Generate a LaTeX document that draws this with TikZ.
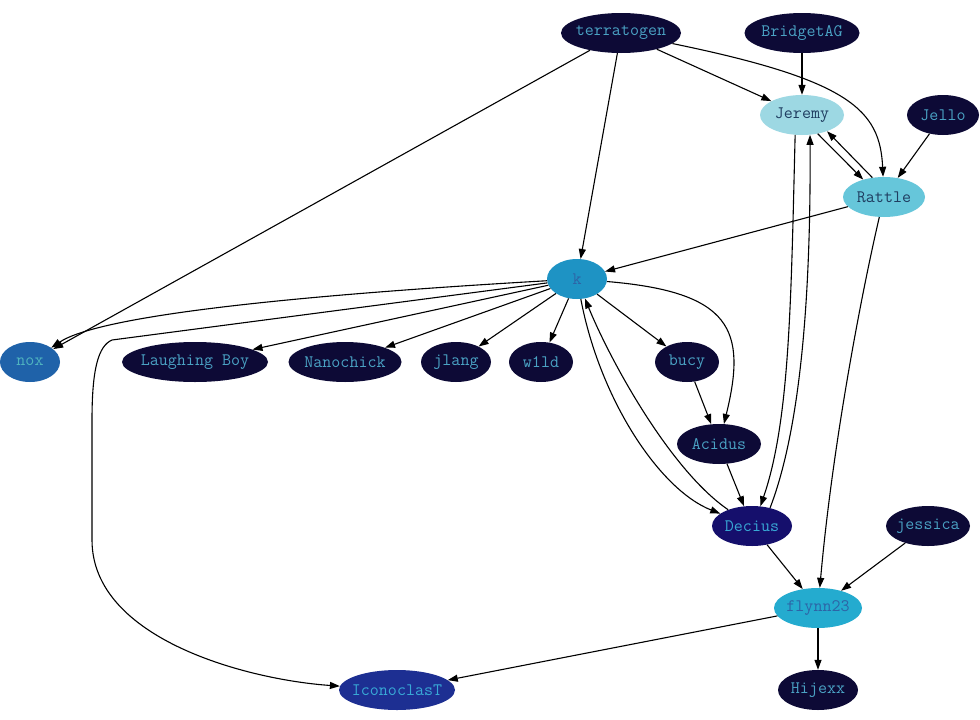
\documentclass[tikz,border=0pt]{standalone}
\usepackage{tikz}
\usetikzlibrary{arrows.meta, shapes.geometric}
\definecolor{night}{HTML}{0D0A36}
\definecolor{sky}{HTML}{4AA2C4}
\definecolor{ink}{HTML}{1F3D60}
\definecolor{pale}{HTML}{9DD8E3}
\definecolor{rattle}{HTML}{66C6DA}
\definecolor{hub}{HTML}{1E93C4}
\definecolor{hubtext}{HTML}{2D64A6}
\definecolor{noxblue}{HTML}{1F62A9}
\definecolor{noxtext}{HTML}{4FB4BF}
\definecolor{indigo}{HTML}{150F6C}
\definecolor{bright}{HTML}{38A9D6}
\definecolor{flynn}{HTML}{24ABCF}
\definecolor{royal}{HTML}{1D2F92}

\begin{document}
\begin{tikzpicture}[x=1pt, y=-1pt,
    user/.style={ellipse, fill=night, text=sky, inner ysep=0pt, inner xsep=-12pt, minimum height=40pt,
      font=\ttfamily\fontsize{17.5}{20}\selectfont},
    edge/.style={-{Triangle[length=10pt,width=7pt]}, line width=1.1pt, black}]
      \useasboundingbox (0,0) rectangle (980,720);
      \fill[white] (0,0) rectangle (980,720);

      \node[user, minimum width=120pt] (terratogen) at (621,33) {terratogen};
      \node[user, minimum width=115pt] (bridget) at (802,33) {BridgetAG};
      \node[user, minimum width=84pt, fill=pale, text=ink] (jeremy) at (802,115) {Jeremy};
      \node[user, minimum width=72pt] (jello) at (943,115) {Jello};
      \node[user, minimum width=82pt, fill=rattle, text=ink] (rattle) at (884,197) {Rattle};
      \node[user, minimum width=60pt, fill=hub, text=hubtext] (k) at (577,279) {k};
      \node[user, minimum width=60pt, fill=noxblue, text=noxtext] (nox) at (30,362) {nox};
      \node[user, minimum width=146pt] (laughing) at (195,362) {Laughing Boy};
      \node[user, minimum width=113pt] (nanochick) at (345,362) {Nanochick};
      \node[user, minimum width=70pt] (jlang) at (456,362) {jlang};
      \node[user, minimum width=64pt] (wild) at (541,362) {w1ld};
      \node[user, minimum width=64pt] (bucy) at (687,362) {bucy};
      \node[user, minimum width=84pt] (acidus) at (719,444) {Acidus};
      \node[user, minimum width=80pt, fill=indigo, text=bright] (decius) at (752,526) {Decius};
      \node[user, minimum width=84pt] (jessica) at (928,526) {jessica};
      \node[user, minimum width=88pt, fill=flynn, text=hubtext] (flynn) at (818,608) {flynn23};
      \node[user, minimum width=116pt, fill=royal, text=bright] (iconoclast) at (397,690) {IconoclasT};
      \node[user, minimum width=80pt] (hijexx) at (818,690) {Hijexx};

      \draw[edge] (terratogen) -- (nox);
      \draw[edge] (terratogen) -- (k);
      \draw[edge] (terratogen) -- (jeremy);
      \draw[edge] (terratogen) .. controls (850,80) and (880,110) .. (rattle);
      \draw[edge] (bridget) -- (jeremy);
      \draw[edge] (jello) -- (rattle);
      \draw[edge] (jeremy.-50) -- (rattle.140);
      \draw[edge] (rattle.121) -- (jeremy.-33);
      \draw[edge] (jeremy.-109) .. controls (791,300) and (790,420) .. (decius.67);
      \draw[edge] (decius.45) .. controls (800,430) and (811,300) .. (jeremy.-68);
      \draw[edge] (rattle) -- (k);
      \draw[edge] (rattle) .. controls (860,300) and (832,450) .. (flynn);
      \draw[edge] (k) .. controls (300,295) and (100,315) .. (nox);
      \draw[edge] (k) -- (112,340) .. controls (98,346) and (92,370) .. (92,420) -- (92,540)
        .. controls (92,640) and (250,680) .. (iconoclast);
      \foreach \t in {laughing, nanochick, jlang, wild, bucy}{
        \draw[edge] (k) -- (\t);
      }
      \draw[edge] (k) .. controls (732,292) and (747,330) .. (acidus);
      \draw[edge] (k) .. controls (600,400) and (660,490) .. (decius);
      \draw[edge] (decius) .. controls (670,470) and (610,360) .. (k);
      \draw[edge] (bucy) -- (acidus);
      \draw[edge] (acidus) -- (decius);
      \draw[edge] (decius) -- (flynn);
      \draw[edge] (jessica) -- (flynn);
      \draw[edge] (flynn) -- (iconoclast);
      \draw[edge] (flynn) -- (hijexx);
    \end{tikzpicture}
\end{document}
